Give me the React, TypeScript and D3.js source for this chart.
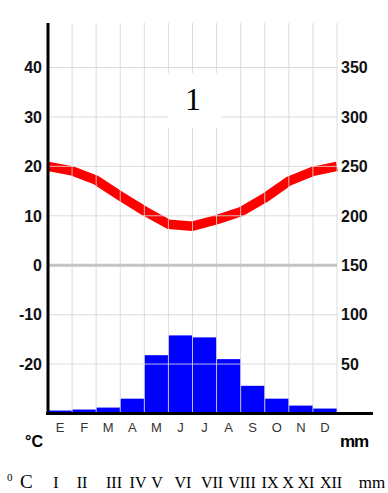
import React from "react";
import * as d3 from "d3";

// climograph data
const months = ["E", "F", "M", "A", "M", "J", "J", "A", "S", "O", "N", "D"];
const romanMonths = ["I", "II", "III", "IV", "V", "VI", "VII", "VIII", "IX", "X", "XI", "XII"];
const temps = [20, 19.1, 17.2, 14, 11, 8.3, 7.9, 9.2, 10.8, 13.6, 17, 19];
const precip = [3, 4, 6, 15, 59, 79, 77, 55, 28, 15, 8, 5];
const tempTicks = [-20, -10, 0, 10, 20, 30, 40];
const precipTicks = [50, 100, 150, 200, 250, 300, 350];
// x centres of the roman numeral row under the chart
const romanX = [56, 82, 114, 138, 157, 183, 212, 242, 270, 288, 306, 331];

const W = 388;
const H = 493;
const left = 48;
const right = 337;
const top = 23;

const App = () => {
  const x = d3
    .scaleBand()
    .domain(d3.range(12).map(String))
    .range([left, right])
    .padding(0);
  const yT = d3.scaleLinear().domain([-30, 40]).range([413.5, 67.5]);
  // 0 mm sits on -30 degrees, 50 mm per 10 degrees
  const yP = d3.scaleLinear().domain([0, 350]).range([413.5, 67.5]);

  const linePts: [number, number][] = temps.map((t, i) => [x(String(i)), yT(t)]);
  linePts.push([right, yT(temps[0])]);
  const line = d3.line();

  const font = "Arial, 'Liberation Sans', sans-serif";
  const serif = "'Times New Roman', 'Liberation Serif', serif";

  return (
    <svg
      width={W}
      height={H}
      style={{ position: "absolute", left: 0, top: 0, background: "#fff" }}
    >
      {/* precipitation bars */}
      {precip.map((p, i) => (
        <rect
          key={"b" + i}
          x={x(String(i))}
          y={yP(p)}
          width={x.bandwidth()}
          height={yP(0) - yP(p)}
          fill="#0000fe"
        />
      ))}

      {/* temperature curve */}
      <path
        d={line(linePts) || ""}
        fill="none"
        stroke="#ff0000"
        strokeWidth={9.5}
        strokeLinejoin="round"
      />

      {/* grid on top */}
      {d3.range(1, 13).map((i) => {
        const gx = i < 12 ? x(String(i)) : right;
        return (
          <line
            key={"v" + i}
            x1={gx}
            x2={gx}
            y1={top}
            y2={yT(-30)}
            stroke="#d6d6d6"
            strokeOpacity={0.85}
          />
        );
      })}
      {tempTicks
        .filter((t) => t !== 0)
        .map((t) => (
          <line
            key={"h" + t}
            x1={left}
            x2={right}
            y1={yT(t)}
            y2={yT(t)}
            stroke="#d6d6d6"
            strokeOpacity={0.85}
          />
        ))}
      <line x1={left} x2={right} y1={yT(0)} y2={yT(0)} stroke="#c4c4c4" strokeWidth={3} />

      {/* axes */}
      <line x1={left} x2={left} y1={top} y2={415} stroke="#000" strokeWidth={3} />
      <line x1={46} x2={373} y1={yT(-30)} y2={yT(-30)} stroke="#000" strokeWidth={3} />

      {/* tick labels */}
      {tempTicks.map((t) => (
        <text
          key={"lt" + t}
          x={42}
          y={yT(t)}
          dy="0.36em"
          textAnchor="end"
          fontFamily={font}
          fontWeight="bold"
          fontSize={16}
          fill="#111"
        >
          {t}
        </text>
      ))}
      {precipTicks.map((p) => (
        <text
          key={"rt" + p}
          x={341}
          y={yP(p)}
          dy="0.36em"
          textAnchor="start"
          fontFamily={font}
          fontWeight="bold"
          fontSize={16}
          fill="#111"
        >
          {p}
        </text>
      ))}

      {/* month letters */}
      {months.map((m, i) => (
        <text
          key={"m" + i}
          x={x(String(i))! + x.bandwidth() / 2}
          y={432}
          textAnchor="middle"
          fontFamily={font}
          fontSize={13}
          fill="#333"
        >
          {m}
        </text>
      ))}
      <text x={25} y={447} fontFamily={font} fontWeight="bold" fontSize={16} fill="#000">
        °C
      </text>
      <text x={340} y={447} fontFamily={font} fontWeight="bold" fontSize={17} letterSpacing={-1} fill="#000">
        mm
      </text>

      {/* station number */}
      <rect x={168} y={73} width={53} height={55} fill="#fff" />
      <text x={193} y={110} textAnchor="middle" fontFamily={serif} fontSize={32} fill="#000">
        1
      </text>

      {/* roman numeral row */}
      <text x={7} y={481} fontFamily={serif} fontSize={11} fill="#000">
        0
      </text>
      <text x={20} y={488} fontFamily={serif} fontSize={19} fill="#000">
        C
      </text>
      {romanMonths.map((r, i) => (
        <text
          key={"r" + i}
          x={romanX[i]}
          y={488}
          textAnchor="middle"
          fontFamily={serif}
          fontSize={16}
          fill="#000"
        >
          {r}
        </text>
      ))}
      <text x={372} y={488} textAnchor="middle" fontFamily={serif} fontSize={17} fill="#000">
        mm
      </text>
    </svg>
  );
};

export default App;
